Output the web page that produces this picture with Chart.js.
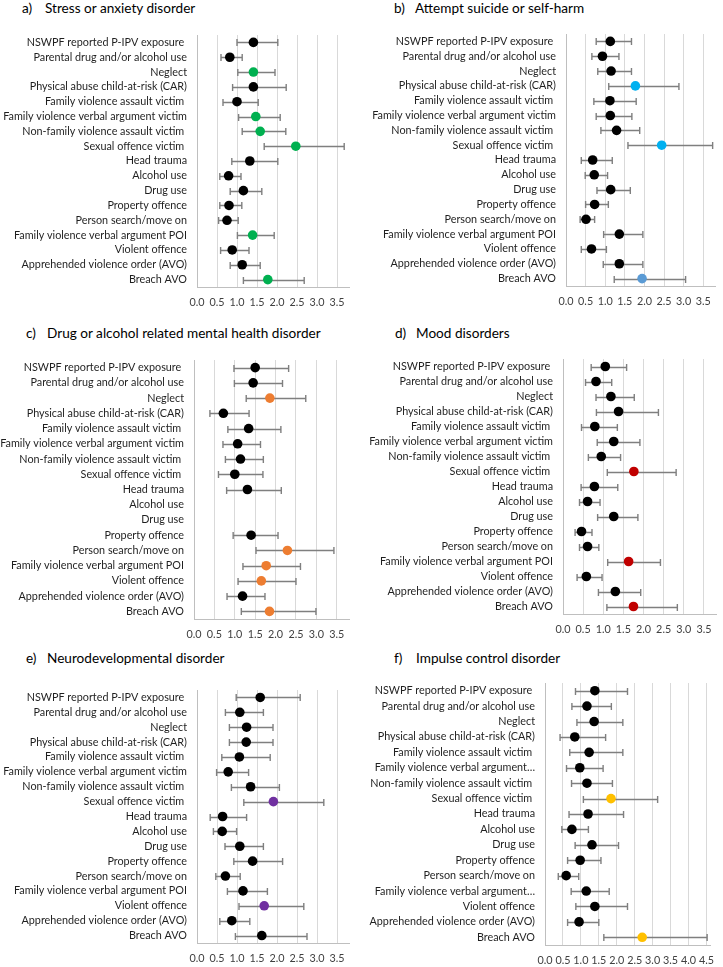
<!DOCTYPE html>
<html>
<head>
<meta charset="utf-8">
<script src="https://cdn.jsdelivr.net/npm/chart.js@4.4.1/dist/chart.umd.min.js"></script>
<style>
  html, body { margin: 0; padding: 0; background: #fff; }
  body { width: 723px; height: 967px; position: relative; overflow: hidden; font-family: Lato, sans-serif; }
  .title { position: absolute; font-size: 13.6px; line-height: 16px; color: #000; white-space: nowrap; }
  .title .tag { display: inline-block; }
  .panel { position: absolute; }
</style>
</head>
<body>
<script>
// ---- Data (odds ratios with 95% CI) ----
const categories = [
  'NSWPF reported P-IPV exposure ', 'Parental drug and/or alcohol use', 'Neglect',
  'Physical abuse child-at-risk (CAR)', 'Family violence assault victim ',
  'Family violence verbal argument victim', 'Non-family violence assault victim ',
  'Sexual offence victim ', 'Head trauma', 'Alcohol use', 'Drug use', 'Property offence',
  'Person search/move on', 'Family violence verbal argument POI', 'Violent offence',
  'Apprehended violence order (AVO)', 'Breach AVO'
];
// panel f truncates the two long labels
const categoriesF = categories.map(c => c.startsWith('Family violence verbal argument') ? 'Family violence verbal argument…' : c);

const ticksStd = [0, 0.5, 1, 1.5, 2, 2.5, 3, 3.5];
const ticksF   = [0, 0.5, 1, 1.5, 2, 2.5, 3, 3.5, 4, 4.5];
const maxStd = 3.8;
const maxF   = 4.6;

// a) Stress or anxiety disorder
const aEst = [1.41, 0.82, 1.41, 1.41, 1.00, 1.47, 1.58, 2.47, 1.32, 0.79, 1.16, 0.80, 0.75, 1.39, 0.88, 1.13, 1.77];
const aLo  = [1.00, 0.60, 1.02, 0.89, 0.65, 1.04, 1.13, 1.68, 0.87, 0.57, 0.83, 0.57, 0.54, 1.01, 0.59, 0.83, 1.16];
const aHi  = [2.02, 1.13, 1.95, 2.23, 1.53, 2.08, 2.22, 3.68, 2.02, 1.10, 1.62, 1.12, 1.03, 1.93, 1.30, 1.58, 2.68];
const aSig = [0, 0, 1, 0, 0, 1, 1, 1, 0, 0, 0, 0, 0, 1, 0, 0, 1];

// b) Attempt suicide or self-harm
const bEst = [1.13, 0.93, 1.15, 1.77, 1.12, 1.13, 1.29, 2.44, 0.68, 0.72, 1.14, 0.73, 0.51, 1.36, 0.65, 1.36, 1.94];
const bLo  = [0.77, 0.66, 0.81, 1.09, 0.71, 0.77, 0.89, 1.58, 0.39, 0.49, 0.79, 0.50, 0.36, 0.96, 0.39, 0.95, 1.23];
const bHi  = [1.67, 1.35, 1.67, 2.88, 1.79, 1.68, 1.88, 3.74, 1.18, 1.06, 1.64, 1.08, 0.73, 1.96, 1.03, 1.96, 3.05];
const bSig = [0, 0, 0, 1, 0, 0, 0, 1, 0, 0, 0, 0, 0, 0, 0, 0, 2];

// c) Drug or alcohol related mental health disorder
const cEst = [1.50, 1.45, 1.86, 0.72, 1.34, 1.07, 1.14, 1.00, 1.31, null, null, 1.40, 2.29, 1.77, 1.65, 1.19, 1.85];
const cLo  = [0.98, 0.99, 1.28, 0.39, 0.83, 0.71, 0.77, 0.60, 0.80, null, null, 0.96, 1.52, 1.20, 1.08, 0.81, 1.16];
const cHi  = [2.32, 2.17, 2.74, 1.35, 2.13, 1.63, 1.70, 1.69, 2.14, null, null, 2.06, 3.43, 2.61, 2.50, 1.74, 2.99];
const cSig = [0, 0, 1, 0, 0, 0, 0, 0, 0, 0, 0, 0, 1, 1, 1, 0, 1];

// d) Mood disorders
const dEst = [1.05, 0.82, 1.19, 1.38, 0.79, 1.26, 0.95, 1.76, 0.78, 0.61, 1.26, 0.46, 0.61, 1.63, 0.58, 1.30, 1.75];
const dLo  = [0.70, 0.56, 0.82, 0.83, 0.46, 0.85, 0.63, 1.10, 0.45, 0.41, 0.86, 0.30, 0.41, 1.11, 0.35, 0.88, 1.09];
const dHi  = [1.58, 1.21, 1.77, 2.37, 1.35, 1.91, 1.43, 2.81, 1.36, 0.92, 1.86, 0.72, 0.89, 2.42, 0.97, 1.93, 2.84];
const dSig = [0, 0, 0, 0, 0, 0, 0, 1, 0, 0, 0, 0, 0, 1, 0, 0, 1];

// e) Neurodevelopmental disorder
const eEst = [1.58, 1.07, 1.24, 1.23, 1.06, 0.78, 1.34, 1.91, 0.64, 0.63, 1.07, 1.39, 0.71, 1.15, 1.68, 0.87, 1.62];
const eLo  = [0.98, 0.71, 0.81, 0.81, 0.62, 0.49, 0.86, 1.17, 0.33, 0.41, 0.70, 0.92, 0.47, 0.76, 1.05, 0.57, 0.96];
const eHi  = [2.58, 1.66, 1.90, 1.90, 1.83, 1.29, 2.06, 3.17, 1.24, 0.99, 1.66, 2.14, 1.08, 1.76, 2.67, 1.32, 2.75];
const eSig = [0, 0, 0, 0, 0, 0, 0, 1, 0, 0, 0, 0, 0, 0, 1, 0, 0];

// f) Impulse control disorder
const fEst = [1.39, 1.17, 1.37, 0.83, 1.23, 0.97, 1.17, 1.84, 1.20, 0.75, 1.31, 0.98, 0.59, 1.15, 1.39, 0.95, 2.71];
const fLo  = [0.85, 0.75, 0.89, 0.42, 0.69, 0.60, 0.74, 1.07, 0.67, 0.47, 0.84, 0.63, 0.37, 0.73, 0.86, 0.63, 1.64];
const fHi  = [2.30, 1.85, 2.17, 1.69, 2.17, 1.62, 1.88, 3.14, 2.19, 1.21, 2.05, 1.56, 0.94, 1.79, 2.30, 1.50, 4.52];
const fSig = [0, 0, 0, 0, 0, 0, 0, 1, 0, 0, 0, 0, 0, 0, 0, 0, 1];

// ---- Panel layout / styling ----
const FONT = 'Lato, "Liberation Sans", sans-serif';
const panels = [
  { tag: 'a)', title: 'Stress or anxiety disorder', labels: categories, est: aEst, lo: aLo, hi: aHi, sig: aSig,
    colours: ['#000000', '#00B050'], ticks: ticksStd, max: maxStd,
    box: { left: 0, top: 28, width: 362, height: 292 }, plot: { left: 197, right: 349, top: 35, bottom: 287 },
    head: { left: 22, top: 0, gap: 23 } },
  { tag: 'b)', title: 'Attempt suicide or self-harm', labels: categories, est: bEst, lo: bLo, hi: bHi, sig: bSig,
    colours: ['#000000', '#00B0F0', '#5B9BD5'], ticks: ticksStd, max: maxStd,
    box: { left: 362, top: 28, width: 361, height: 292 }, plot: { left: 566, right: 715, top: 34, bottom: 286 },
    head: { left: 394, top: 0, gap: 21 } },
  { tag: 'c)', title: 'Drug or alcohol related mental health disorder', labels: categories, est: cEst, lo: cLo, hi: cHi, sig: cSig,
    colours: ['#000000', '#ED7D31'], ticks: ticksStd, max: maxStd,
    box: { left: 0, top: 350, width: 362, height: 292 }, plot: { left: 194, right: 349, top: 360, bottom: 619 },
    head: { left: 26, top: 325, gap: 21 } },
  { tag: 'd)', title: 'Mood disorders', labels: categories, est: dEst, lo: dLo, hi: dHi, sig: dSig,
    colours: ['#000000', '#C00000'], ticks: ticksStd, max: maxStd,
    box: { left: 362, top: 350, width: 361, height: 292 }, plot: { left: 563, right: 716, top: 359, bottom: 614 },
    head: { left: 395, top: 325, gap: 21 } },
  { tag: 'e)', title: 'Neurodevelopmental disorder', labels: categories, est: eEst, lo: eLo, hi: eHi, sig: eSig,
    colours: ['#000000', '#7030A0'], ticks: ticksStd, max: maxStd,
    box: { left: 0, top: 678, width: 362, height: 289 }, plot: { left: 197, right: 349, top: 690, bottom: 943 },
    head: { left: 26, top: 650, gap: 21 } },
  { tag: 'f)', title: 'Impulse control disorder', labels: categoriesF, est: fEst, lo: fLo, hi: fHi, sig: fSig,
    colours: ['#000000', '#FFC000'], ticks: ticksF, max: maxF,
    box: { left: 362, top: 675, width: 361, height: 292 }, plot: { left: 545, right: 710, top: 683, bottom: 945 },
    head: { left: 394, top: 650, gap: 22 } },
];

// ---- Error bar plugin: whiskers drawn through the chart's own scales ----
const errorBars = {
  id: 'errorBars',
  beforeDatasetsDraw(chart, args, opts) {
    const { ctx, scales: { x, y } } = chart;
    const ds = chart.data.datasets[0];
    ctx.save();
    ctx.strokeStyle = opts.color;
    ctx.lineWidth = opts.width;
    ds.errLo.forEach((lo, i) => {
      const hi = ds.errHi[i];
      if (lo == null || hi == null) return;
      const py = Math.round(y.getPixelForValue(i)) + 0.5;
      const x1 = x.getPixelForValue(lo);
      const x2 = x.getPixelForValue(hi);
      ctx.beginPath();
      ctx.moveTo(x1, py); ctx.lineTo(x2, py);
      ctx.moveTo(x1, py - opts.cap); ctx.lineTo(x1, py + opts.cap);
      ctx.moveTo(x2, py - opts.cap); ctx.lineTo(x2, py + opts.cap);
      ctx.stroke();
    });
    ctx.restore();
  }
};

function addTitle(p) {
  const div = document.createElement('div');
  div.className = 'title';
  div.style.left = p.head.left + 'px';
  div.style.top = p.head.top + 'px';
  div.innerHTML = `<span class="tag" style="width:${p.head.gap}px">${p.tag}</span><span>${p.title}</span>`;
  document.body.appendChild(div);
}

function buildPanel(p) {
  addTitle(p);
  const canvas = document.createElement('canvas');
  canvas.className = 'panel';
  canvas.width = p.box.width;
  canvas.height = p.box.height;
  canvas.style.left = p.box.left + 'px';
  canvas.style.top = p.box.top + 'px';
  canvas.style.width = p.box.width + 'px';
  canvas.style.height = p.box.height + 'px';
  document.body.appendChild(canvas);

  const yWidth  = p.plot.left - p.box.left;
  const xHeight = p.box.top + p.box.height - p.plot.bottom;

  new Chart(canvas, {
    type: 'line',
    data: {
      labels: p.labels,
      datasets: [{
        data: p.est,
        errLo: p.lo,
        errHi: p.hi,
        showLine: false,
        pointRadius: 4.8,
        pointHoverRadius: 4.8,
        pointBorderWidth: 0,
        pointBackgroundColor: p.sig.map(s => p.colours[s]),
        pointBorderColor: p.sig.map(s => p.colours[s]),
      }]
    },
    options: {
      indexAxis: 'y',
      responsive: false,
      animation: false,
      events: [],
      layout: { padding: { top: p.plot.top - p.box.top, right: p.box.left + p.box.width - p.plot.right, left: 0, bottom: 0 } },
      scales: {
        x: {
          type: 'linear',
          min: 0,
          max: p.max,
          afterBuildTicks: s => { s.ticks = p.ticks.map(v => ({ value: v })); },
          afterFit: s => { s.height = xHeight; s.paddingLeft = 0; s.paddingRight = 0; },
          ticks: {
            callback: v => Number(v).toFixed(1),
            font: { family: FONT, size: 10.8 },
            color: '#404040',
            padding: 9,
            maxRotation: 0,
            autoSkip: false,
          },
          grid: { color: '#d9d9d9', lineWidth: 1, drawTicks: false },
          border: { display: true, color: '#bfbfbf' },
        },
        y: {
          type: 'category',
          offset: true,
          afterFit: s => { s.width = yWidth; s.paddingTop = 0; s.paddingBottom = 0; },
          ticks: {
            font: { family: FONT, size: 10.8 },
            color: '#1f1f1f',
            padding: 10,
            autoSkip: false,
          },
          grid: { display: false, drawTicks: false },
          border: { display: true, color: '#bfbfbf' },
        },
      },
      plugins: {
        legend: { display: false },
        tooltip: { enabled: false },
        errorBars: { color: '#7f7f7f', width: 1.4, cap: 3.5 },
      },
    },
    plugins: [errorBars],
  });
}

panels.forEach(buildPanel);
</script>
</body>
</html>
